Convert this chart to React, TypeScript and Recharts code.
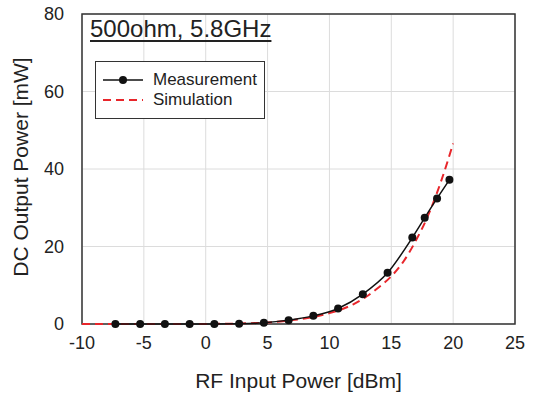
import React from 'react'
import { CartesianGrid, Line, LineChart, ReferenceArea, XAxis, YAxis } from 'recharts'

// measured points (RF input dBm -> DC output mW)
const measX = [-7.3, -5.3, -3.3, -1.3, 0.7, 2.7, 4.7, 6.7, 8.7, 10.7, 12.7, 14.7, 16.7, 17.7, 18.7, 19.7]
const measY = [0, 0, 0, 0, 0, 0.05, 0.3, 1.0, 2.1, 4.0, 7.7, 13.2, 22.3, 27.4, 32.4, 37.2]

// simulated curve
const simX = [-10, -8, -6, -4, -2, 0, 2, 4, 5, 6, 7, 8, 9, 10, 11, 12, 13, 14, 15, 16, 17, 18, 19, 20]
const simY = [0, 0, 0, 0, 0.01, 0.02, 0.08, 0.25, 0.4, 0.65, 1.0, 1.4, 2.0, 2.8, 3.8, 5.2, 7.1, 9.5, 12.3, 16.2, 21.6, 28.2, 36.6, 46.6]

const xTicks = [-10, -5, 0, 5, 10, 15, 20, 25]
const yTicks = [0, 20, 40, 60, 80]

const measurement = measX.map((x, i) => ({ x, y: measY[i] }))
const simulation = simX.map((x, i) => ({ x, y: simY[i] }))

const font = '"Liberation Sans", Arial, sans-serif'

function LegendBox() {
  return (
    <div style={{ position: 'absolute', left: 95, top: 61, width: 170, height: 58, border: '1.5px solid #333', boxSizing: 'border-box', fontFamily: font, fontSize: 17, color: '#222', background: '#fff' }}>
      <div style={{ display: 'flex', alignItems: 'center', height: 20, marginTop: 8 }}>
        <svg width={57} height={20}>
          <line x1={7} y1={10} x2={47} y2={10} stroke="#111" strokeWidth={1.5} />
          <circle cx={27} cy={10} r={4} fill="#111" />
        </svg>
        <span>Measurement</span>
      </div>
      <div style={{ display: 'flex', alignItems: 'center', height: 20 }}>
        <svg width={57} height={20}>
          <line x1={7} y1={10} x2={47} y2={10} stroke="#e8262b" strokeWidth={2} strokeDasharray="8 5" />
        </svg>
        <span>Simulation</span>
      </div>
    </div>
  )
}

function App() {
  return (
    <div style={{ position: 'absolute', left: 0, top: 0, width: 535, height: 397, background: '#fff' }}>
      <LineChart width={535} height={397} margin={{ top: 14, right: 20, left: 0, bottom: 0 }}>
        <CartesianGrid stroke="#dcdcdc" strokeWidth={1} />
        <XAxis
          dataKey="x"
          type="number"
          domain={[-10, 25]}
          ticks={xTicks}
          allowDataOverflow
          height={73}
          tickLine={false}
          axisLine={false}
          tick={{ fontSize: 18, fill: '#222', fontFamily: font }}
          tickMargin={6}
          label={(props: any) => {
            const vb = props.viewBox
            return (
              <text x={vb.x + vb.width / 2} y={vb.y + 64} textAnchor="middle" fontSize={21} fill="#222" fontFamily={font}>
                RF Input Power [dBm]
              </text>
            )
          }}
        />
        <YAxis
          type="number"
          domain={[0, 80]}
          ticks={yTicks}
          width={82}
          tickLine={false}
          axisLine={false}
          tick={{ fontSize: 18, fill: '#222', fontFamily: font }}
          tickMargin={12}
          label={(props: any) => {
            const vb = props.viewBox
            const cx = vb.x + 28
            const cy = vb.y + vb.height / 2 - 2
            return (
              <text x={cx} y={cy} textAnchor="middle" transform={`rotate(-90 ${cx} ${cy})`} fontSize={21} fill="#222" fontFamily={font}>
                DC Output Power [mW]
              </text>
            )
          }}
        />
        <ReferenceArea x1={-10} x2={25} y1={0} y2={80} fill="none" stroke="#333" strokeWidth={1.5} ifOverflow="visible" />
        <Line
          data={simulation}
          dataKey="y"
          type="monotone"
          stroke="#e8262b"
          strokeWidth={2}
          strokeDasharray="8 5"
          dot={false}
          isAnimationActive={false}
        />
        <Line
          data={measurement}
          dataKey="y"
          type="monotone"
          stroke="#111"
          strokeWidth={1.5}
          dot={{ r: 4, fill: '#111', stroke: '#111', strokeWidth: 0 }}
          isAnimationActive={false}
        />
      </LineChart>
      <LegendBox />
      <div
        style={{
          position: 'absolute',
          left: 90,
          top: 16,
          fontFamily: font,
          fontSize: 24,
          color: '#222',
          textDecoration: 'underline',
          textUnderlineOffset: 3,
          lineHeight: '26px',
          whiteSpace: 'nowrap',
        }}
      >
        500ohm, 5.8GHz
      </div>
    </div>
  )
}

export default App
